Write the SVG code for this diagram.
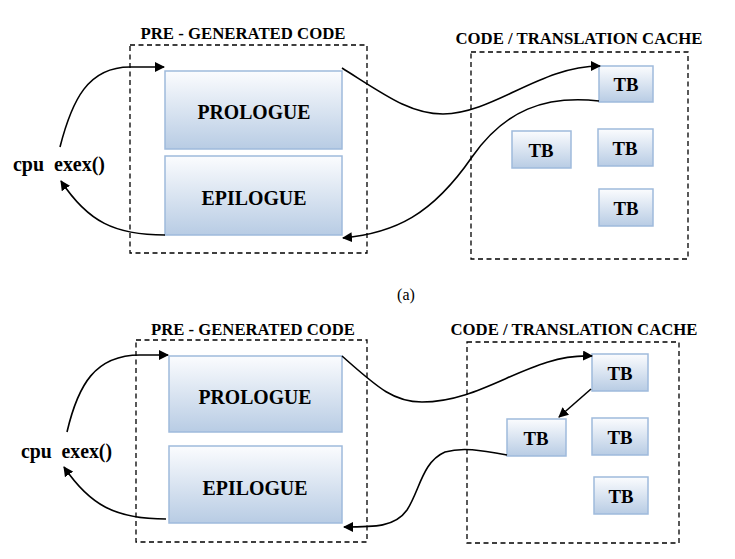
<svg xmlns="http://www.w3.org/2000/svg" width="735" height="559" viewBox="0 0 735 559">
<defs>
<linearGradient id="g" x1="0" y1="0" x2="0" y2="1">
<stop offset="0" stop-color="#fbfcfe"/>
<stop offset="1" stop-color="#b8cce4"/>
</linearGradient>
<marker id="ah" viewBox="0 0 10 10" refX="9" refY="5" markerWidth="10" markerHeight="10" markerUnits="userSpaceOnUse" orient="auto">
<path d="M0,0 L10,5 L0,10 z" fill="#000"/>
</marker>
<style>
.dash{fill:none;stroke:#000;stroke-width:1.3;stroke-dasharray:5,3.5}
.box{fill:url(#g);stroke:#9fbadc;stroke-width:1.5}
.t{font-family:"Liberation Serif","Times New Roman",serif;font-weight:bold;fill:#000;text-anchor:middle}
.title{font-size:16.5px}
.big{font-size:20px}
.tb{font-size:19.5px}
.lbl{font-size:20px;text-anchor:start}
.c{fill:none;stroke:#000;stroke-width:1.6;marker-end:url(#ah)}
</style>
</defs>
<rect width="735" height="559" fill="#fff"/>
<!-- Diagram (a) -->
<g id="pre-a">
<rect class="dash" x="130" y="45" width="237" height="208"/>
<text class="t title" x="243" y="39" textLength="205" lengthAdjust="spacingAndGlyphs">PRE - GENERATED CODE</text>
</g>
<g id="cache-a">
<rect class="dash" x="471" y="52" width="217" height="207"/>
<text class="t title" x="579" y="44" textLength="247" lengthAdjust="spacingAndGlyphs">CODE / TRANSLATION CACHE</text>
</g>
<g id="prologue-a">
<rect class="box" x="165" y="71" width="177" height="78"/>
<text class="t big" x="254" y="119" textLength="113" lengthAdjust="spacingAndGlyphs">PROLOGUE</text>
</g>
<g id="epilogue-a">
<rect class="box" x="165" y="156" width="177" height="79"/>
<text class="t big" x="254" y="205" textLength="105" lengthAdjust="spacingAndGlyphs">EPILOGUE</text>
</g>
<g id="cpu-a">
<text class="t lbl" x="13" y="171" textLength="92" lengthAdjust="spacingAndGlyphs" xml:space="preserve">cpu  exex()</text>
</g>
<g id="tb1-a"><rect class="box" x="599" y="66" width="54" height="36"/><text class="t tb" x="626" y="91" textLength="25" lengthAdjust="spacingAndGlyphs">TB</text></g>
<g id="tb2-a"><rect class="box" x="512" y="131" width="59" height="37"/><text class="t tb" x="541" y="157" textLength="25" lengthAdjust="spacingAndGlyphs">TB</text></g>
<g id="tb3-a"><rect class="box" x="598" y="129" width="55" height="37"/><text class="t tb" x="625" y="155" textLength="25" lengthAdjust="spacingAndGlyphs">TB</text></g>
<g id="tb4-a"><rect class="box" x="599" y="189" width="54" height="37"/><text class="t tb" x="626" y="215" textLength="25" lengthAdjust="spacingAndGlyphs">TB</text></g>

<text x="406" y="300" font-family="'Liberation Serif','Times New Roman',serif" font-size="16" text-anchor="middle">(a)</text>

<!-- Diagram (b) -->
<g id="pre-b">
<rect class="dash" x="136" y="340" width="231" height="202"/>
<text class="t title" x="253" y="335" textLength="204" lengthAdjust="spacingAndGlyphs">PRE - GENERATED CODE</text>
</g>
<g id="cache-b">
<rect class="dash" x="467" y="342" width="212" height="201"/>
<text class="t title" x="574" y="335" textLength="247" lengthAdjust="spacingAndGlyphs">CODE / TRANSLATION CACHE</text>
</g>
<g id="prologue-b">
<rect class="box" x="169" y="356" width="173" height="76"/>
<text class="t big" x="255" y="404" textLength="113" lengthAdjust="spacingAndGlyphs">PROLOGUE</text>
</g>
<g id="epilogue-b">
<rect class="box" x="169" y="446" width="173" height="77"/>
<text class="t big" x="255" y="495" textLength="105" lengthAdjust="spacingAndGlyphs">EPILOGUE</text>
</g>
<g id="cpu-b">
<text class="t lbl" x="21" y="458" textLength="91" lengthAdjust="spacingAndGlyphs" xml:space="preserve">cpu  exex()</text>
</g>
<g id="tb1-b"><rect class="box" x="592" y="354" width="56" height="37"/><text class="t tb" x="620" y="380" textLength="25" lengthAdjust="spacingAndGlyphs">TB</text></g>
<g id="tb2-b"><rect class="box" x="507" y="419" width="59" height="37"/><text class="t tb" x="536" y="445" textLength="25" lengthAdjust="spacingAndGlyphs">TB</text></g>
<g id="tb3-b"><rect class="box" x="592" y="418" width="56" height="37"/><text class="t tb" x="620" y="444" textLength="25" lengthAdjust="spacingAndGlyphs">TB</text></g>
<g id="tb4-b"><rect class="box" x="594" y="477" width="54" height="37"/><text class="t tb" x="621" y="503" textLength="25" lengthAdjust="spacingAndGlyphs">TB</text></g>

<g id="connectors">
<!-- (a) -->
<path class="c" d="M60,147 C72,100 88,67 130,67 L164,67"/>
<path class="c" d="M165,235 C115,235 88,222 61,181"/>
<path class="c" d="M342,68 C385,95 410,114 443,114 C495,113 540,66 600,66"/>
<path class="c" d="M599,101 C545,95 505,110 472,157 C432,215 395,233 343,238"/>
<!-- (b) -->
<path class="c" d="M67,432 C78,385 95,355 140,355 L168,355"/>
<path class="c" d="M166,519 C115,519 90,505 64,467"/>
<path class="c" d="M342,356 C380,390 395,402 422,402 C485,402 530,353 592,356"/>
<path class="c" d="M591,389 L559,417"/>
<path class="c" d="M507,455 C480,450 462,447 445,452 C422,462 420,490 407,510 C395,527 375,527 344,527"/>
</g>
</svg>
